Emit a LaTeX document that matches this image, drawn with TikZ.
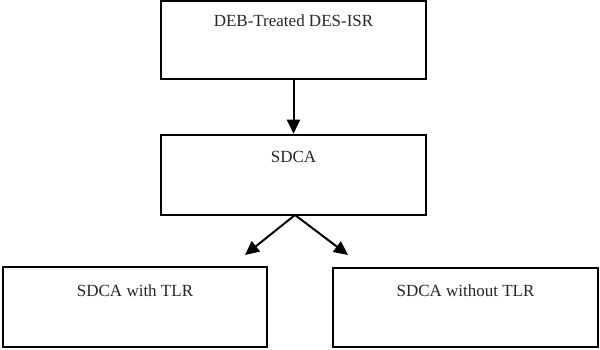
\documentclass[tikz,border=0pt]{standalone}
\usepackage{fontspec}
\setmainfont{Liberation Serif}
\usetikzlibrary{arrows.meta}
\begin{document}
\begin{tikzpicture}[x=1pt,y=-1pt,
  box/.style={draw=black, line width=2.6pt, fill=white, inner sep=0pt},
  lbl/.style={anchor=base, inner sep=0pt, font=\fontsize{17}{20}\selectfont, text=black!85},
  arr/.style={line width=2pt, -{Triangle[length=14pt,width=13pt]}}]
\useasboundingbox (0,0) rectangle (600,349);
\fill[white] (0,0) rectangle (600,349);
\node[box, minimum width=265pt, minimum height=78pt] (top) at (293.5,40) {};
\node[box, minimum width=265pt, minimum height=80pt] (mid) at (293.5,175) {};
\node[box, minimum width=264pt, minimum height=80pt] (bl) at (135,307) {};
\node[box, minimum width=265pt, minimum height=79pt] (br) at (465.5,307.5) {};
\node[lbl] (ttop) at ([yshift=-27pt]top.north) {DEB-Treated DES-ISR};
\node[lbl] (tmid) at ([yshift=-29pt]mid.north) {SDCA};
\node[lbl] (tbl) at ([yshift=-31pt]bl.north) {SDCA with TLR};
\node[lbl] (tbr) at ([yshift=-30pt]br.north) {SDCA without TLR};
\coordinate (s) at (295,215);
\coordinate (el) at (245,255);
\coordinate (er) at (348,255);
\draw[arr] (top.south) -- (mid.north);
\draw[arr] (s) -- (el);
\draw[arr] (s) -- (er);
\end{tikzpicture}
\end{document}
